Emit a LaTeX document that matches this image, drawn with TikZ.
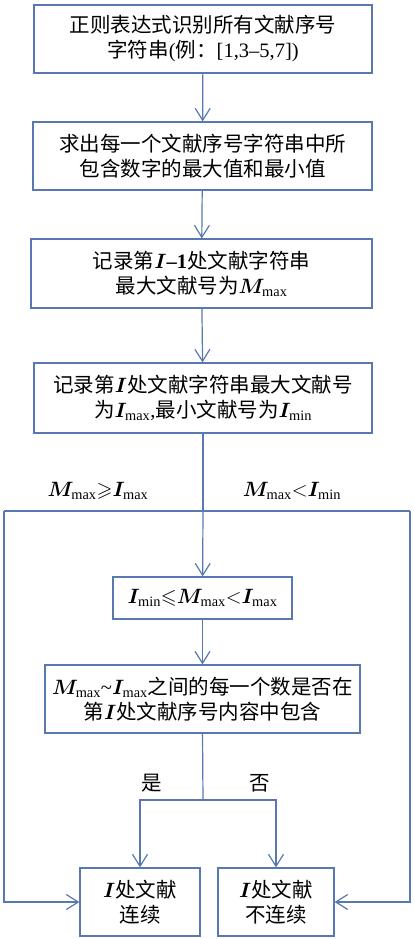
\documentclass[tikz,border=0pt]{standalone}
\usepackage{amsmath,amssymb}
\usepackage{bm}
\usepackage{fontspec}
\setmainfont{Liberation Serif}
\newfontfamily\cjk{Noto Sans CJK SC}
\usepackage{tikz}
\usetikzlibrary{arrows.meta,positioning}
\definecolor{flowblue}{RGB}{88,120,175}
\newcommand{\vM}{\bm{M}}
\newcommand{\vI}{\bm{I}}

\begin{document}
\begin{tikzpicture}[
    x=1pt, y=-1pt,
    >={Straight Barb[length=12pt,width=15pt]},
    font=\fontsize{20.5pt}{25pt}\selectfont\cjk,
    box/.style={
        draw=flowblue,
        line width=1.2pt,
        align=center,
        inner sep=0pt
    },
    arr/.style={->, draw=flowblue, line width=1.2pt},
    wire/.style={draw=flowblue, line width=1.2pt},
    lbl/.style={inner sep=0pt}
]
\useasboundingbox (0,0) rectangle (414,939);

% main column
\node[box, minimum width=338pt, minimum height=68pt] (regex) at (203,39)
{正则表达式识别所有文献序号\\字符串{\rmfamily(}例：{\rmfamily[1,3–5,7])}};

\node[box, minimum width=339pt, minimum height=68pt] (range) at (202.5,156)
{求出每一个文献序号字符串中所\\包含数字的最大值和最小值};

\node[box, minimum width=341pt, minimum height=69pt] (prev) at (201.5,273.5)
{记录第$\vI${\rmfamily\bfseries–1}处文献字符串\\最大文献号为$\vM_{\max}$};

\node[box, minimum width=338pt, minimum height=70pt] (cur) at (203,398)
{记录第$\vI$处文献字符串最大文献号\\为$\vI_{\max}${\rmfamily,}最小文献号为$\vI_{\min}$};

\coordinate (fork) at (203,511);
\coordinate (railL) at (4,511);
\coordinate (railR) at (410,511);

\node[lbl] (geq) at (98,491) {$\vM_{\max}{\geqslant}\vI_{\max}$};
\node[lbl] (less) at (292,491) {$\vM_{\max}{<}\vI_{\min}$};

\node[box, minimum width=179pt, minimum height=42pt] (mid) at (202.5,598)
{$\vI_{\min}{\leqslant}\vM_{\max}{<}\vI_{\max}$};

\node[box, minimum width=315pt, minimum height=68pt] (check) at (202.5,699)
{$\vM_{\max}${\rmfamily\textasciitilde}$\vI_{\max}$之间的每一个数是否在\\第$\vI$处文献序号内容中包含};

\coordinate (split) at (203,800);
\node[lbl] (yes) at (152,783) {是};
\node[lbl] (no) at (260,783) {否};

% results
\node[box, minimum width=120pt, minimum height=68pt] (cont) at (140,902)
{$\vI$处文献\\连续};
\node[box, minimum width=116pt, minimum height=68pt] (gap) at (276,902)
{$\vI$处文献\\不连续};

\draw[arr] (regex) -- (range);
\draw[arr] (range) -- (prev);
\draw[arr] (prev) -- (cur);
\draw[wire] (cur.south) -- (fork);
\draw[wire] (railL) -- (railR);
\draw[arr] (fork) -- (mid);
\draw[arr] (mid) -- (check);
\draw[wire] (check.south) -- (split);
\draw[arr] (split) -| (cont.north);
\draw[arr] (split) -| (gap.north);
\draw[arr] (railL) |- (cont.west);
\draw[arr] (railR) |- (gap.east);

\end{tikzpicture}
\end{document}
